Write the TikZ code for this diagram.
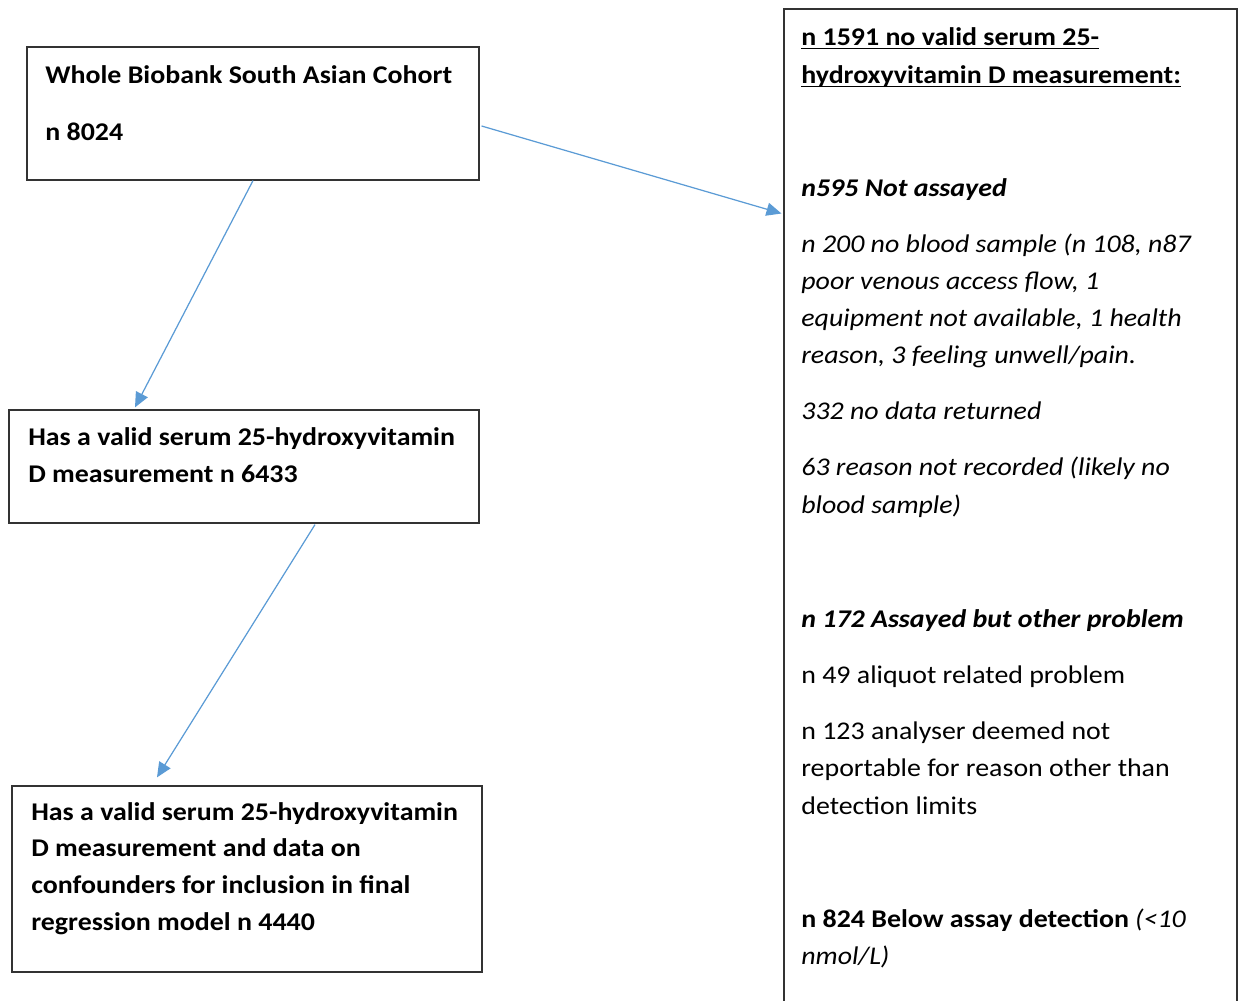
\documentclass[tikz,border=0pt]{standalone}
\usepackage{fontspec}
\setmainfont{Carlito}[FakeStretch=1.095]
\usetikzlibrary{arrows.meta}

\definecolor{linkblue}{HTML}{5B9BD5}
\newcommand{\undr}[1]{\setbox0\hbox{#1}\rlap{\vrule height -1.6pt depth 2.5pt width\wd0}\box0}
\tikzstyle{box} = [draw=black!80, line width=0.7pt, inner sep=0pt]
\tikzstyle{link} = [draw=linkblue, line width=0.7pt, -{Triangle[length=8.5pt,width=7.5pt]}]
\tikzstyle{line} = [anchor=base west, inner sep=0pt, font=\fontsize{14.5}{17}\selectfont]

\begin{document}
\begin{tikzpicture}[x=0.02cm, y=-0.02cm]
     \useasboundingbox (0,0) rectangle (1245,1001);
     % The boxes
     \node[box, minimum width=9.04cm, minimum height=2.66cm] (cohort) at (253,113.5) {};
     \node[box, minimum width=9.4cm, minimum height=2.26cm] (valid) at (244,466.5) {};
     \node[box, minimum width=9.4cm, minimum height=3.72cm] (final) at (247,879) {};
     \node[box, minimum width=9.06cm, minimum height=20.6cm] (missing) at (1010.5,524) {};

     % Text of the left boxes
     \foreach \pos/\txt [count=\i] in {{(45,83)/Whole Biobank South Asian Cohort}, {(45,140)/n 8024},
       {(28,445)/Has a valid serum 25-hydroxyvitamin}, {(28,482)/D measurement n 6433},
       {(31,820)/Has a valid serum 25-hydroxyvitamin}, {(31,856)/D measurement and data on},
       {(31,893)/confounders for inclusion in final}, {(31,930)/regression model n 4440}}
     \node[line, font=\fontsize{14.5}{17}\selectfont\bfseries] (l\i) at \pos {\txt};

     % Text of the right box
     \foreach \y/\txt [count=\i] in {
       45/{\textbf{\undr{n 1591 no valid serum 25-}}},
       83/{\textbf{\undr{hydroxyvitamin D measurement:}}},
       196/{\textbf{\textit{n595 Not assayed}}},
       252/{\textit{n 200 no blood sample (n 108, n87}},
       289/{\textit{poor venous access flow, 1}},
       326/{\textit{equipment not available, 1 health}},
       363/{\textit{reason, 3 feeling unwell/pain.}},
       419/{\textit{332 no data returned}},
       475/{\textit{63 reason not recorded (likely no}},
       513/{\textit{blood sample)}},
       627/{\textbf{\textit{n 172 Assayed but other problem}}},
       683/{n 49 aliquot related problem},
       739/{n 123 analyser deemed not},
       776/{reportable for reason other than},
       814/{detection limits},
       927/{\textbf{n 824 Below assay detection} \textit{(<10}},
       964/{\textit{nmol/L)}}}
     \node[line] (r\i) at (801,\y) {\txt};

     % Connect the boxes
     \path[link] (cohort.south) -- ([shift={(-109,-2)}]valid.north);
     \path[link] ([shift={(71,1)}]valid.south) -- ([shift={(-90,-8)}]final.north);
     \path[link] ([shift={(2,12.5)}]cohort.east) -- ([shift={(-2,205)}]missing.north west);
\end{tikzpicture}
\end{document}
